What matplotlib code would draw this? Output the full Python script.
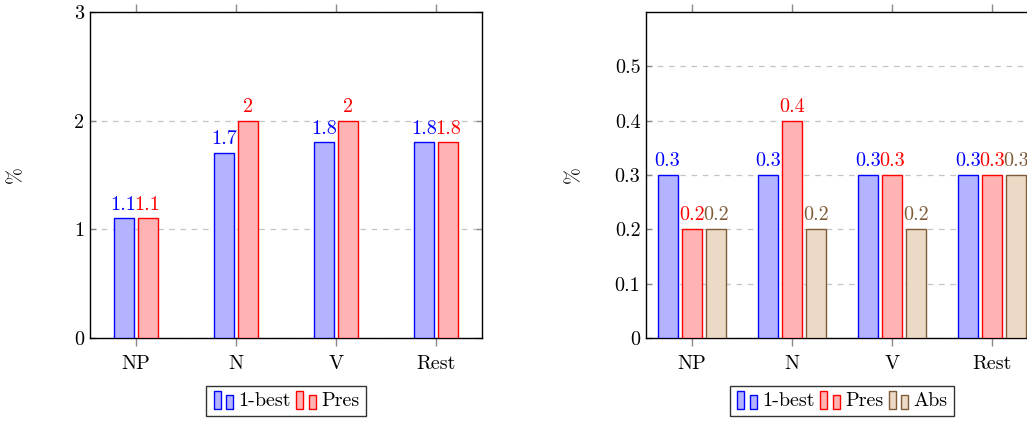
import matplotlib
matplotlib.use("Agg")
import matplotlib.pyplot as plt
import numpy as np
from matplotlib.legend_handler import HandlerBase
from matplotlib.patches import Rectangle

plt.rcParams['font.family'] = ['cmr10', 'DejaVu Serif']
plt.rcParams['axes.formatter.use_mathtext'] = True
plt.rcParams['mathtext.fontset'] = 'cm'

categories = ["NP", "N", "V", "Rest"]

left_series = ["1-best", "Pres"]
left_1best = [1.1, 1.7, 1.8, 1.8]
left_pres = [1.1, 2.0, 2.0, 1.8]
left_labels_1best = ["1.1", "1.7", "1.8", "1.8"]
left_labels_pres = ["1.1", "2", "2", "1.8"]
left_yticks = [0, 1, 2, 3]
left_yticklabels = ["0", "1", "2", "3"]

right_series = ["1-best", "Pres", "Abs"]
right_1best = [0.3, 0.3, 0.3, 0.3]
right_pres = [0.2, 0.4, 0.3, 0.3]
right_abs = [0.2, 0.2, 0.2, 0.3]
right_yticks = [0, 0.1, 0.2, 0.3, 0.4, 0.5]
right_yticklabels = ["0", "0.1", "0.2", "0.3", "0.4", "0.5"]

FILLS = ["#b3b3ff", "#ffb3b3", "#ecd9c6"]
EDGES = ["#0000ff", "#ff0000", "#7f5b38"]
FS = 14.5
GRAYT = "#8a8a8a"
GRAYG = "#c4c4c4"


class TwoBarHandler(HandlerBase):
    def create_artists(self, legend, orig_handle, xdescent, ydescent,
                       width, height, fontsize, trans):
        fc = orig_handle.get_facecolor()
        ec = orig_handle.get_edgecolor()
        w = width * 0.32
        r1 = Rectangle((-xdescent + width * 0.05, -ydescent - height * 0.15), w, height * 1.25,
                       facecolor=fc, edgecolor=ec, linewidth=1, transform=trans)
        r2 = Rectangle((-xdescent + width * 0.62, -ydescent - height * 0.15), w, height * 0.95,
                       facecolor=fc, edgecolor=ec, linewidth=1, transform=trans)
        return [r1, r2]


fig = plt.figure(figsize=(10.27, 4.23), dpi=100)
W, H = 1027.0, 423.0


def make_axes(left_px, right_px):
    return fig.add_axes([left_px / W, 1 - 338 / H, (right_px - left_px) / W, (338 - 12) / H])


def style(ax, yticks, yticklabels, ylim):
    x = np.arange(len(categories))
    ax.set_xlim(-0.455, len(categories) - 1 + 0.455)
    ax.set_ylim(*ylim)
    ax.set_xticks(x)
    ax.set_xticklabels(categories, fontsize=FS)
    ax.set_yticks(yticks)
    ax.set_yticklabels(yticklabels, fontsize=FS)
    ax.tick_params(axis='x', direction='out', length=6, width=1, color=GRAYT,
                   top=True, bottom=True, labeltop=False, pad=6)
    ax.tick_params(axis='y', direction='in', length=4.5, width=1, color=GRAYT,
                   left=True, right=True, pad=4)
    for sp in ax.spines.values():
        sp.set_linewidth(1)
        sp.set_color('black')
    ax.yaxis.grid(True, linestyle=(0, (4.5, 4.5)), color=GRAYG, linewidth=0.9)
    ax.set_axisbelow(True)
    ax.set_ylabel("%", fontsize=FS, rotation=90)


def draw_bars(ax, series_vals, series_labels, offsets, fmt_labels):
    x = np.arange(len(categories))
    handles = []
    for i, (vals, off) in enumerate(zip(series_vals, offsets)):
        b = ax.bar(x + off, vals, width=0.2, color=FILLS[i], edgecolor=EDGES[i],
                   linewidth=1, label=series_labels[i], zorder=3)
        handles.append(b.patches[0])
        for xi, v, t in zip(x, vals, fmt_labels[i]):
            ax.annotate(t, (xi + off, v), xytext=(0, 3.5), textcoords='offset points',
                        ha='center', va='bottom', fontsize=FS, color=EDGES[i], zorder=4)
    return handles


# Left chart
ax1 = make_axes(90, 482)
style(ax1, left_yticks, left_yticklabels, (0, 3))
h1 = draw_bars(ax1, [left_1best, left_pres], left_series, [-0.12, 0.12],
               [left_labels_1best, left_labels_pres])
ax1.yaxis.set_label_coords(-0.165, 0.5)
leg1 = ax1.legend(h1, left_series, loc='upper center', bbox_to_anchor=(0.5, -0.148),
                  ncol=2, fontsize=FS, frameon=True, fancybox=False, edgecolor='black',
                  handler_map={Rectangle: TwoBarHandler()}, handlelength=1.1,
                  handleheight=0.7, handletextpad=0.2, columnspacing=0.2,
                  borderpad=0.3, borderaxespad=0)
leg1.get_frame().set_linewidth(1)

# Right chart
ax2 = make_axes(646, 1038)
style(ax2, right_yticks, right_yticklabels, (0, 0.6))
fmt = lambda arr: [f"{v:g}" for v in arr]
h2 = draw_bars(ax2, [right_1best, right_pres, right_abs], right_series, [-0.24, 0.0, 0.24],
               [fmt(right_1best), fmt(right_pres), fmt(right_abs)])
ax2.yaxis.set_label_coords(-0.16, 0.5)
leg2 = ax2.legend(h2, right_series, loc='upper center', bbox_to_anchor=(0.5, -0.148),
                  ncol=3, fontsize=FS, frameon=True, fancybox=False, edgecolor='black',
                  handler_map={Rectangle: TwoBarHandler()}, handlelength=1.1,
                  handleheight=0.7, handletextpad=0.2, columnspacing=0.2,
                  borderpad=0.3, borderaxespad=0)
leg2.get_frame().set_linewidth(1)

fig.savefig("out.png", dpi=100)
